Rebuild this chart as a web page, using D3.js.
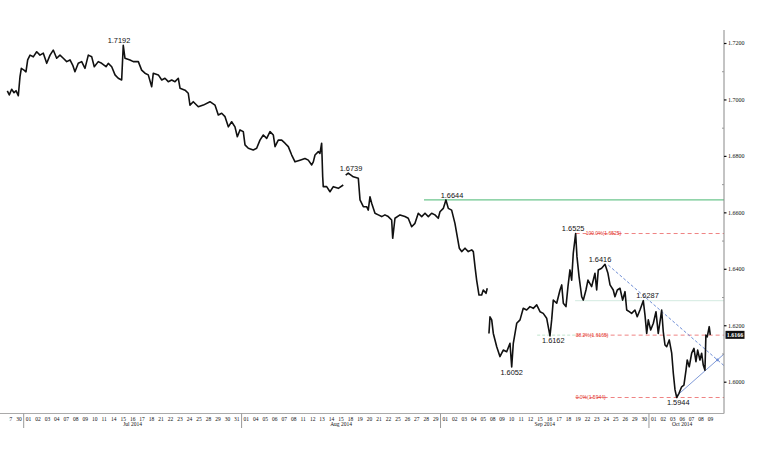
<!DOCTYPE html>
<html><head><meta charset="utf-8">
<script src="https://cdn.jsdelivr.net/npm/d3@7"></script>
<style>body{margin:0;background:#fff}svg{display:block}</style>
</head><body>
<svg id="c" width="770" height="454"></svg>
<script>
// ---------- data ----------
const dayLabels = ["27","30",
 "01","02","03","04","07","08","09","10","11","14","15","16","17","18","21","22","23","24","25","28","29","30","31",
 "01","04","05","06","07","08","11","12","13","14","15","18","19","20","21","22","25","26","27","28","29",
 "01","02","03","04","05","08","09","10","11","12","15","16","17","18","19","22","23","24","25","26","29","30",
 "01","02","03","06","07","08","09"];
const monthNames = ["Jul 2014","Aug 2014","Sep 2014","Oct 2014"];
const monthStarts = [2,25,46,68];
const chartEndDay = 75.92;
const yTicks = [1.60,1.62,1.64,1.66,1.68,1.70,1.72];
const yMinorTicks = [1.61,1.63,1.65,1.67,1.69,1.71];
// [trading-day time, GBPUSD price]; null = gap
const priceSeries = [
[0.27,1.7030],[0.48,1.7016],[0.73,1.7036],[0.98,1.7024],[1.19,1.7031],[1.43,1.7013],[1.61,1.7081],[1.75,1.7110],[2.03,1.7104],[2.24,1.7098],[2.42,1.7140],[2.67,1.7157],[3.01,1.7151],[3.37,1.7169],[3.72,1.7157],[4.07,1.7164],[4.43,1.7128],[4.78,1.7157],[5.12,1.7175],[5.48,1.7146],[5.83,1.7157],[6.18,1.7146],[6.54,1.7134],[6.89,1.7140],[7.17,1.7122],[7.41,1.7098],[7.76,1.7128],[8.12,1.7134],[8.47,1.7110],[8.82,1.7157],[9.18,1.7151],[9.45,1.7116],[9.87,1.7134],[10.23,1.7128],[10.69,1.7116],[10.93,1.7128],[11.29,1.7116],[11.64,1.7087],[11.98,1.7075],[12.34,1.7069],[12.51,1.7192],[12.69,1.7146],[13.22,1.7140],[13.57,1.7134],[14.10,1.7134],[14.45,1.7104],[14.80,1.7093],[15.15,1.7087],[15.51,1.7045],[15.68,1.7093],[16.21,1.7087],[16.57,1.7069],[16.91,1.7075],[17.26,1.7063],[17.62,1.7069],[17.97,1.7063],[18.32,1.7075],[18.50,1.7040],[19.03,1.7033],[19.37,1.7022],[19.55,1.6980],
[19.90,1.6992],[20.43,1.6974],[20.96,1.6980],[21.66,1.6992],[22.19,1.6980],[22.54,1.6945],[22.90,1.6951],[23.25,1.6939],[23.60,1.6903],[23.95,1.6921],[24.30,1.6903],[24.55,1.6868],[24.83,1.6892],[25.18,1.6886],[25.36,1.6839],[25.71,1.6827],[26.23,1.6821],[26.59,1.6827],[26.94,1.6856],[27.29,1.6874],[27.65,1.6862],[28.00,1.6886],[28.35,1.6874],[28.53,1.6833],[28.87,1.6856],[29.23,1.6856],[29.58,1.6845],[29.93,1.6833],[30.29,1.6803],[30.64,1.6779],[31.16,1.6785],[31.69,1.6791],[32.04,1.6785],[32.40,1.6768],[32.57,1.6779],[32.75,1.6803],[33.10,1.6815],[33.27,1.6809],[33.45,1.6845],[33.56,1.6726],[33.62,1.6691],[33.98,1.6691],[34.33,1.6673],[34.68,1.6691],[35.21,1.6685],[35.73,1.6697],[35.86,null],
[35.99,1.6732],[36.26,1.6739],[36.79,1.6726],[37.32,1.6721],[37.50,1.6644],[37.85,1.6620],[38.20,1.6620],[38.37,1.6608],[38.55,1.6655],[38.73,1.6632],[39.08,1.6597],[39.43,1.6591],[39.79,1.6585],[40.13,1.6591],[40.48,1.6585],[40.84,1.6573],[40.95,1.6508],[41.19,1.6579],[41.72,1.6591],[42.24,1.6585],[42.59,1.6579],[42.95,1.6549],[43.30,1.6561],[43.65,1.6597],[44.01,1.6585],[44.36,1.6597],[44.71,1.6585],[45.06,1.6597],[45.41,1.6591],[45.76,1.6579],[45.94,1.6602],[46.29,1.6614],[46.57,1.6644],[46.82,1.6614],[47.17,1.6608],[47.52,1.6561],[47.70,1.6526],[47.98,1.6473],[48.23,1.6461],[48.58,1.6473],[48.93,1.6461],[49.29,1.6467],[49.46,1.6461],[49.64,1.6407],[49.81,1.6360],[50.06,1.6307],[50.34,1.6307],[50.51,1.6325],[50.80,1.6313],[50.93,1.6331],[51.02,null],
[51.11,1.6171],[51.22,1.6230],[51.40,1.6219],[51.57,1.6171],[51.93,1.6124],[52.27,1.6089],[52.62,1.6112],[52.98,1.6106],[53.33,1.6136],[53.51,1.6052],[53.68,1.6136],[53.86,1.6171],[54.04,1.6207],[54.39,1.6219],[54.73,1.6260],[55.09,1.6254],[55.44,1.6266],[55.79,1.6260],[56.15,1.6272],[56.50,1.6248],[56.84,1.6242],[57.20,1.6225],[57.55,1.6162],[57.73,1.6219],[57.90,1.6289],[58.26,1.6278],[58.61,1.6325],[58.79,1.6343],[58.96,1.6278],[59.24,1.6266],[59.45,1.6337],[59.66,1.6396],[59.84,1.6360],[60.01,1.6455],[60.26,1.6525],[60.40,1.6443],[60.62,1.6372],[60.90,1.6301],[61.07,1.6289],[61.35,1.6325],[61.56,1.6360],[61.95,1.6337],[62.30,1.6384],[62.48,1.6325],[62.65,1.6396],[63.00,1.6402],[63.36,1.6416],[63.67,1.6384],[63.89,1.6343],[64.23,1.6325],[64.41,1.6301],[64.66,1.6325],[64.94,1.6331],[65.22,1.6289],[65.47,1.6319],[65.65,1.6254],[65.92,1.6248],[66.17,1.6242],[66.52,1.6254],[66.76,1.6230],[67.05,1.6254],[67.40,1.6287],[67.58,1.6236],[67.76,1.6171],[67.93,1.6219],[68.18,1.6183],[68.46,1.6207],[68.74,1.6248],[68.98,1.6171],[69.24,1.6230],[69.34,1.6254],[69.51,1.6177],[69.69,1.6130],[69.87,1.6124],[70.14,1.6148],[70.40,1.6101],[70.57,1.6030],[70.75,1.5971],[70.93,1.5944],[71.17,1.5959],[71.45,1.5982],[71.69,1.5988],[71.91,1.6041],[72.04,1.6077],[72.25,1.6053],[72.51,1.6101],[72.75,1.6118],[72.96,1.6071],[73.14,1.6112],[73.38,1.6077],[73.56,1.6101],[73.73,1.6059],[73.91,1.6041],[74.01,1.6165],[74.15,1.6159],[74.36,1.6195],[74.47,1.6166]
];
const lastPrice = 1.6166;
const highLabels = [["1.7192",12.06],["1.6739",36.55],["1.6644",47.21],["1.6525",60.0],["1.6416",62.83],["1.6287",67.84]];
const lowLabels = [["1.6162",57.90],["1.6052",53.51],["1.5944",71.09]];
const fibStartDay = 60.26;
const fibPcts = ["100.0%","38.2%","0.0%"];
const fibPrices = [1.6525,1.6165,1.5944];
const resistanceLine = {price:1.6644, from:44.25};
const paleLine = {price:1.6287, from:60.2};
const paleDashed = {price:1.6165, from:56.2, to:60.26};
const trendDown = [[63.71,1.6413],[75.92,1.6057]];
const trendUp = [[70.93,1.5950],[75.92,1.6098]];

// ---------- scales ----------
const svg = d3.select("#c");
const x = d3.scaleLinear().domain([0, chartEndDay]).range([4.75, 724]);
const y = d3.scaleLinear().domain([1.60, 1.72]).range([381.7, 43]);
const axisX = x(chartEndDay), plotTop = 30, plotBottom = 413.5;
const serif = "'Liberation Serif', 'DejaVu Serif', serif";
const sans = "'Liberation Sans', Arial, sans-serif";

// ---------- reference lines ----------
svg.append("line").attr("x1", x(resistanceLine.from)).attr("x2", axisX)
  .attr("y1", y(resistanceLine.price)).attr("y2", y(resistanceLine.price))
  .attr("stroke", "#6cc68e").attr("stroke-width", 1.2);
svg.append("line").attr("x1", x(paleLine.from)).attr("x2", axisX)
  .attr("y1", y(paleLine.price)).attr("y2", y(paleLine.price))
  .attr("stroke", "#d3ebe0").attr("stroke-width", 1);
svg.append("line").attr("x1", x(paleDashed.from)).attr("x2", x(paleDashed.to))
  .attr("y1", y(paleDashed.price)).attr("y2", y(paleDashed.price))
  .attr("stroke", "#bfe3cc").attr("stroke-width", 1).attr("stroke-dasharray", "3,2");
fibPrices.forEach((p, i) => {
  svg.append("line").attr("x1", x(fibStartDay)).attr("x2", axisX)
    .attr("y1", y(p)).attr("y2", y(p))
    .attr("stroke", "#ef8383").attr("stroke-width", 1).attr("stroke-dasharray", "4,3");
});

// trend lines
const tl = d3.line().x(d => x(d[0])).y(d => y(d[1]));
svg.append("path").attr("d", tl(trendDown)).attr("fill", "none")
  .attr("stroke", "#6f8ed6").attr("stroke-width", 1).attr("stroke-dasharray", "3,2");
svg.append("path").attr("d", tl(trendUp)).attr("fill", "none")
  .attr("stroke", "#7f9ad8").attr("stroke-width", 1);
(function(){
  const [a1,a2] = trendDown.map(d => [x(d[0]), y(d[1])]);
  const [b1,b2] = trendUp.map(d => [x(d[0]), y(d[1])]);
  const s1 = (a2[1]-a1[1])/(a2[0]-a1[0]), s2 = (b2[1]-b1[1])/(b2[0]-b1[0]);
  const ix = (b1[1]-a1[1] + s1*a1[0] - s2*b1[0])/(s1 - s2);
  const iy = a1[1] + s1*(ix - a1[0]);
  svg.append("circle").attr("cx", ix).attr("cy", iy).attr("r", 1.4).attr("fill", "#6f8ed6");
})();

// ---------- price line ----------
const line = d3.line().defined(d => d[1] != null).x(d => x(d[0])).y(d => y(d[1]));
svg.append("path").attr("d", line(priceSeries)).attr("fill", "none")
  .attr("stroke", "#111").attr("stroke-width", 1.6).attr("stroke-linejoin", "round");

// fib labels
fibPrices.forEach((p, i) => {
  svg.append("text").attr("x", x(fibStartDay) + (i === 0 ? 10 : 0)).attr("y", y(p) + 1.5)
    .attr("font-family", sans).attr("font-size", 5).attr("fill", "#e3342b")
    .text(`${fibPcts[i]}(${p.toFixed(4)})`);
});

// annotations
highLabels.forEach(([lab, t]) => {
  svg.append("text").attr("x", x(t)).attr("y", y(+lab) - 2.2).attr("text-anchor", "middle")
    .attr("font-family", sans).attr("font-size", 7.4).attr("fill", "#111").text(lab);
});
lowLabels.forEach(([lab, t]) => {
  svg.append("text").attr("x", x(t)).attr("y", y(+lab) + 7.5).attr("text-anchor", "middle")
    .attr("font-family", sans).attr("font-size", 7.4).attr("fill", "#111").text(lab);
});

// ---------- y axis (right) ----------
svg.append("line").attr("x1", axisX).attr("x2", axisX).attr("y1", plotTop).attr("y2", plotBottom)
  .attr("stroke", "#888").attr("stroke-width", 1);
const ya = svg.append("g").attr("transform", `translate(${axisX},0)`)
  .call(d3.axisRight(y).tickValues(yTicks).tickFormat(d3.format(".4f")).tickSize(2.5).tickPadding(1.5));
ya.select(".domain").remove();
ya.selectAll("line").attr("stroke", "#111").attr("stroke-width", 1.2);
ya.selectAll("text").attr("font-family", serif).attr("font-size", 6).attr("fill", "#111");
const ym = svg.append("g").attr("transform", `translate(${axisX},0)`)
  .call(d3.axisLeft(y).tickValues(yMinorTicks).tickFormat("").tickSize(2));
ym.select(".domain").remove();
ym.selectAll("line").attr("stroke", "#999");

// last price box
svg.append("rect").attr("x", axisX + 1.5).attr("y", y(lastPrice) - 4).attr("width", 19).attr("height", 8)
  .attr("fill", "#111");
svg.append("text").attr("x", axisX + 11).attr("y", y(lastPrice) + 2.2).attr("text-anchor", "middle")
  .attr("font-family", serif).attr("font-size", 6).attr("font-weight", "bold").attr("fill", "#fff").text(lastPrice.toFixed(4));

// ---------- x axis ----------
svg.append("line").attr("x1", 0).attr("x2", axisX).attr("y1", plotBottom).attr("y2", plotBottom)
  .attr("stroke", "#aaa").attr("stroke-width", 1);
svg.append("defs").append("clipPath").attr("id", "xclip")
  .append("rect").attr("x", x(0.5)).attr("y", plotBottom).attr("width", 770).attr("height", 40);
const xg = svg.append("g").attr("clip-path", "url(#xclip)");
dayLabels.forEach((lab, i) => {
  xg.append("text").attr("x", x(i + 0.5)).attr("y", 420.5).attr("text-anchor", "middle")
    .attr("font-family", serif).attr("font-size", 5.5).attr("fill", "#111").text(lab);
});
monthStarts.forEach((s, i) => {
  svg.append("line").attr("x1", x(s)).attr("x2", x(s)).attr("y1", plotBottom).attr("y2", 428)
    .attr("stroke", "#999").attr("stroke-width", 1);
  const e = i + 1 < monthStarts.length ? monthStarts[i + 1] : dayLabels.length;
  svg.append("text").attr("x", x((s + e) / 2)).attr("y", 426.2).attr("text-anchor", "middle")
    .attr("font-family", serif).attr("font-size", 5.5).attr("fill", "#111").text(monthNames[i]);
});
</script>
</body></html>
